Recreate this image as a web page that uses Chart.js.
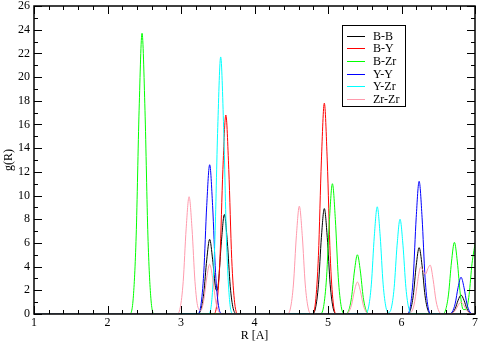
<!DOCTYPE html>
<html>
<head>
<meta charset="utf-8">
<script src="https://cdn.jsdelivr.net/npm/chart.js@4"></script>
<style>
  html, body { margin: 0; padding: 0; background: #fff; }
</style>
</head>
<body>
<canvas id="rdf" width="480" height="343"></canvas>
<script>
// tick labels
const xTicks = [1, 2, 3, 4, 5, 6, 7];
const yTicks = [0, 2, 4, 6, 8, 10, 12, 14, 16, 18, 20, 22, 24, 26];

// series names + colours
const labels = ['B-B', 'B-Y', 'B-Zr', 'Y-Y', 'Y-Zr', 'Zr-Zr'];
const colors = ['#000000', '#ff0000', '#00ff00', '#0000ff', '#00ffff', '#ff9aac'];

// B-B
const bbR = [1, 3.22, 3.27, 3.31, 3.35, 3.39, 3.43, 3.47, 3.49, 3.51, 3.55, 3.59, 3.63, 3.67, 3.71, 3.76,
  4.78, 4.83, 4.87, 4.91, 4.95, 4.99, 5.03, 5.07, 5.12,
  6.07, 6.12, 6.16, 6.20, 6.24, 6.28, 6.32, 6.36, 6.41,
  6.64, 6.69, 6.73, 6.77, 6.81, 6.85, 6.89, 6.93, 6.98, 7];
const bbG = [0, 0.02, 0.35, 1.75, 4.57, 6.3, 4.62, 2.22, 1.98, 2.69, 6.14, 8.4, 6.10, 2.34, 0.47, 0.03,
  0, 0.50, 2.47, 6.46, 8.9, 6.46, 2.47, 0.50, 0,
  0, 0.31, 1.56, 4.07, 5.6, 4.07, 1.56, 0.31, 0,
  0, 0.09, 0.44, 1.16, 1.6, 1.16, 0.44, 0.09, 0, 0];

// B-Y
const byR = [1, 3.44, 3.49, 3.53, 3.57, 3.61, 3.65, 3.69, 3.73, 3.78,
  4.78, 4.83, 4.87, 4.91, 4.95, 4.99, 5.03, 5.07, 5.12, 7];
const byG = [0, 0, 0.94, 4.67, 12.2, 16.8, 12.2, 4.67, 0.94, 0,
  0, 1.0, 4.95, 12.92, 17.8, 12.92, 4.95, 1.0, 0, 0];

// B-Zr
const bzR = [1, 2.30, 2.35, 2.39, 2.43, 2.47, 2.51, 2.55, 2.59, 2.64,
  4.89, 4.94, 4.98, 5.02, 5.06, 5.10, 5.14, 5.18, 5.23,
  5.28, 5.32, 5.36, 5.40, 5.44, 5.48, 5.52, 5.57,
  6.55, 6.60, 6.64, 6.68, 6.72, 6.76, 6.80, 6.84,
  6.88, 6.92, 6.96, 7];
const bzG = [0, 0, 1.33, 6.59, 17.2, 23.7, 17.2, 6.59, 1.33, 0,
  0, 0.62, 3.06, 7.99, 11.0, 7.99, 3.06, 0.62, 0.02,
  0.28, 1.39, 3.63, 5.0, 3.63, 1.39, 0.28, 0,
  0, 0.34, 1.68, 4.39, 6.05, 4.39, 1.68, 0.38,
  0.37, 1.64, 4.28, 5.9];

// Y-Y
const yyR = [1, 3.22, 3.27, 3.31, 3.35, 3.39, 3.43, 3.47, 3.51, 3.56,
  6.07, 6.12, 6.16, 6.20, 6.24, 6.28, 6.32, 6.36, 6.41,
  6.64, 6.69, 6.73, 6.77, 6.81, 6.85, 6.89, 6.93, 6.98, 7];
const yyG = [0, 0, 0.71, 3.50, 9.15, 12.6, 9.15, 3.50, 0.71, 0,
  0, 0.63, 3.11, 8.13, 11.2, 8.13, 3.11, 0.63, 0,
  0, 0.17, 0.86, 2.25, 3.1, 2.25, 0.86, 0.17, 0, 0];

// Y-Zr
const yzR = [1, 3.37, 3.42, 3.46, 3.50, 3.54, 3.58, 3.62, 3.66, 3.71,
  5.50, 5.55, 5.59, 5.63, 5.67, 5.71, 5.75, 5.79, 5.825, 5.86, 5.90, 5.94, 5.98, 6.02, 6.06, 6.10, 6.15, 7];
const yzG = [0, 0, 1.22, 6.03, 15.75, 21.7, 15.75, 6.03, 1.22, 0,
  0, 0.51, 2.52, 6.57, 9.05, 6.57, 2.52, 0.52, 0.14, 0.46, 2.22, 5.81, 8.0, 5.81, 2.22, 0.45, 0, 0];

// Zr-Zr
const zzR = [1, 2.94, 2.99, 3.03, 3.07, 3.11, 3.15, 3.19, 3.23, 3.27, 3.31, 3.35, 3.39, 3.43, 3.47, 3.51, 3.56,
  4.44, 4.49, 4.53, 4.57, 4.61, 4.65, 4.69, 4.73, 4.78,
  5.23, 5.28, 5.32, 5.36, 5.40, 5.44, 5.48, 5.52, 5.57,
  6.08, 6.13, 6.17, 6.21, 6.23, 6.26, 6.29, 6.325, 6.36, 6.39, 6.43, 6.47, 6.51, 6.56,
  6.64, 6.69, 6.73, 6.77, 6.81, 6.85, 6.89, 6.93, 6.98, 7];
const zzG = [0, 0, 0.55, 2.75, 7.19, 9.9, 7.19, 2.75, 0.58, 0.30, 1.17, 3.05, 4.2, 3.05, 1.17, 0.24, 0,
  0, 0.51, 2.53, 6.61, 9.1, 6.61, 2.53, 0.51, 0,
  0, 0.15, 0.75, 1.96, 2.7, 1.96, 0.75, 0.15, 0,
  0, 0.13, 0.75, 2.31, 3.17, 3.94, 3.71, 3.35, 3.85, 4.13, 2.92, 1.11, 0.22, 0,
  0, 0.06, 0.28, 0.73, 1.0, 0.73, 0.28, 0.06, 0, 0];

const seriesR = [bbR, byR, bzR, yyR, yzR, zzR];
const seriesG = [bbG, byG, bzG, yyG, yzG, zzG];

const FONT = 'Liberation Serif, Times New Roman, serif';

const datasets = labels.map((lab, i) => ({
  label: lab,
  data: seriesR[i].map((r, j) => ({ x: r, y: seriesG[i][j] })),
  borderColor: colors[i],
  borderWidth: 1,
  pointRadius: 0,
  fill: false,
  cubicInterpolationMode: 'monotone',
  order: labels.length - i
}));

// frame + inward ticks on all four sides
const framePlugin = {
  id: 'frame',
  afterDatasetsDraw(chart) {
    const { ctx, chartArea: a, scales } = chart;
    ctx.save();
    ctx.strokeStyle = '#000';
    ctx.lineWidth = 1;
    for (let i = 0; i <= 30; i++) {
      const px = Math.round(scales.x.getPixelForValue(1 + i * 0.2)) + 0.5;
      const len = i % 5 === 0 ? 8 : 4;
      ctx.beginPath();
      ctx.moveTo(px, a.bottom); ctx.lineTo(px, a.bottom - len);
      ctx.moveTo(px, a.top); ctx.lineTo(px, a.top + len);
      ctx.stroke();
    }
    for (let v = 0; v <= 26; v++) {
      const py = Math.round(scales.y.getPixelForValue(v)) + 0.5;
      const len = v % 2 === 0 ? 8 : 4;
      ctx.beginPath();
      ctx.moveTo(a.left, py); ctx.lineTo(a.left + len, py);
      ctx.moveTo(a.right, py); ctx.lineTo(a.right - len, py);
      ctx.stroke();
    }
    ctx.lineWidth = 1.5;
    ctx.strokeRect(Math.round(a.left), Math.round(a.top), Math.round(a.right - a.left), Math.round(a.bottom - a.top));
    ctx.restore();
  },
  afterDraw(chart) {
    // legend box inside the plot
    const ctx = chart.ctx;
    ctx.save();
    ctx.strokeStyle = '#000';
    ctx.lineWidth = 1;
    ctx.strokeRect(342.5, 25.5, 63, 81);
    ctx.font = '12px ' + FONT;
    ctx.textBaseline = 'middle';
    ctx.fillStyle = '#000';
    labels.forEach((lab, i) => {
      const y = Math.round(35.7 + i * 12.66) + 0.5;
      ctx.strokeStyle = colors[i];
      ctx.beginPath();
      ctx.moveTo(347, y); ctx.lineTo(365, y);
      ctx.stroke();
      ctx.fillText(lab, 373, y);
    });
    ctx.restore();
  }
};

new Chart(document.getElementById('rdf'), {
  type: 'line',
  data: { datasets: datasets },
  options: {
    responsive: false,
    animation: false,
    devicePixelRatio: 1,
    layout: { padding: { top: 6, right: 5, left: 0, bottom: 0 } },
    plugins: {
      legend: { display: false },
      tooltip: { enabled: false }
    },
    scales: {
      x: {
        type: 'linear',
        min: 1,
        max: 7,
        afterBuildTicks: s => { s.ticks = xTicks.map(v => ({ value: v })); },
        afterFit: s => { s.height = 29; s.paddingLeft = 0; s.paddingRight = 0; },
        grid: { display: false, drawTicks: false },
        border: { display: false },
        ticks: { padding: 3, color: '#000', font: { family: FONT, size: 12, lineHeight: 1 } },
        title: { display: true, text: 'R [A]', color: '#000', padding: 0, font: { family: FONT, size: 12 } }
      },
      y: {
        min: 0,
        max: 26,
        afterBuildTicks: s => { s.ticks = yTicks.map(v => ({ value: v })); },
        afterFit: s => { s.width = 34; s.paddingTop = 0; s.paddingBottom = 0; },
        grid: { display: false, drawTicks: false },
        border: { display: false },
        ticks: { padding: 4, color: '#000', font: { family: FONT, size: 12, lineHeight: 1 } },
        title: { display: true, text: 'g(R)', color: '#000', padding: { top: 2, bottom: 0 }, font: { family: FONT, size: 12 } }
      }
    }
  },
  plugins: [framePlugin]
});
</script>
</body>
</html>
